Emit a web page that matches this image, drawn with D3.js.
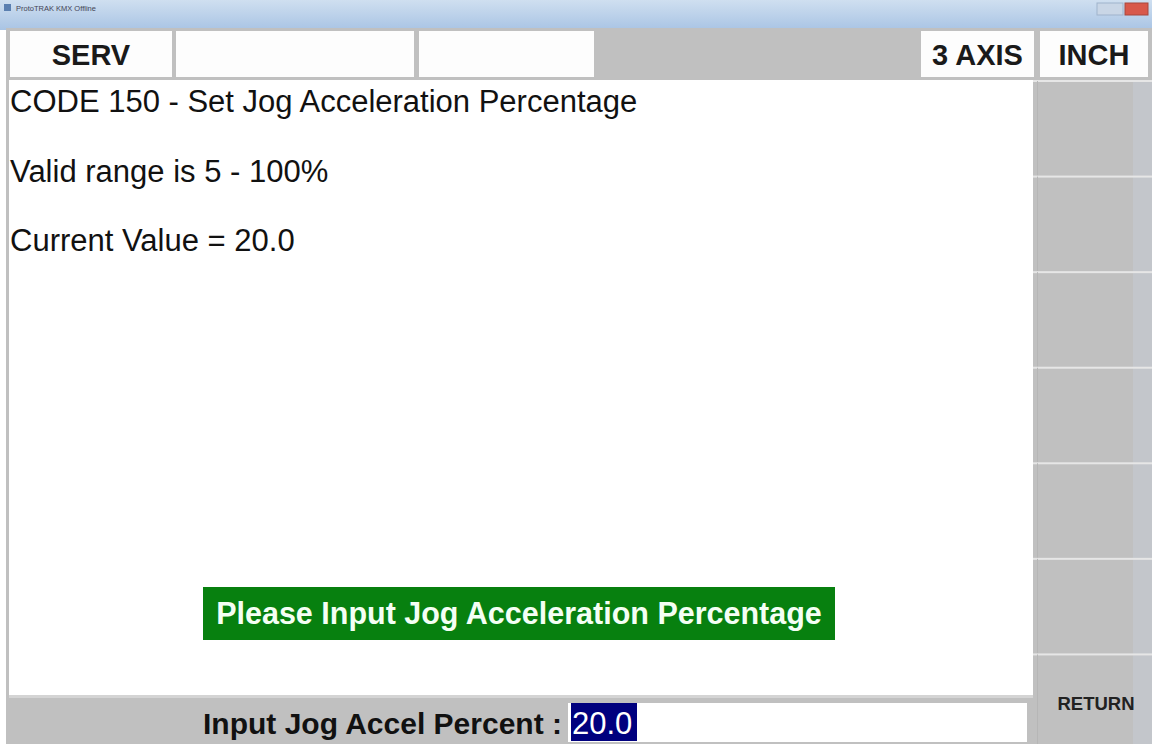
<html>
<head>
<meta charset="utf-8">
<title>ProtoTRAK KMX Offline</title>
<style>
  body { margin: 0; background: #fff; }
  svg { display: block; font-family: "Liberation Sans", Arial, sans-serif; }
</style>
<script src="https://cdnjs.cloudflare.com/ajax/libs/d3/7.8.5/d3.min.js"></script>
</head>
<body>
<svg></svg>
<script>
// screen content
const windowTitle = 'ProtoTRAK KMX Offline';
const topLabels = ['SERV', '', '', null, '3 AXIS', 'INCH'];   // null = empty grey slot
const messageLines = ['CODE 150 - Set Jog Acceleration Percentage', 'Valid range is 5 - 100%', 'Current Value = 20.0'];
const promptText = 'Please Input Jog Acceleration Percentage';
const inputLabel = 'Input Jog Accel Percent :';
const inputValue = '20.0';
const softKeys = ['', '', '', '', '', '', 'RETURN'];

const width = 1152, height = 744;
const grey = '#c0c0c0';

const svg = d3.select('svg').attr('width', width).attr('height', height);

// window title bar
const grad = svg.append('defs').append('linearGradient')
  .attr('id', 'tb').attr('x1', 0).attr('y1', 0).attr('x2', 0).attr('y2', 1);
grad.append('stop').attr('offset', 0).attr('stop-color', '#cfdff0');
grad.append('stop').attr('offset', 1).attr('stop-color', '#a9c4e4');
svg.append('rect').attr('width', width).attr('height', 30).attr('fill', 'url(#tb)');
svg.append('rect').attr('x', 4).attr('y', 4).attr('width', 7).attr('height', 7).attr('fill', '#5a7fb0');
svg.append('text').attr('x', 16).attr('y', 11).attr('font-size', 7.5).attr('fill', '#445').text(windowTitle);
// window buttons
svg.append('rect').attr('x', 1097).attr('y', 3).attr('width', 26).attr('height', 12).attr('fill', '#c9d6e6').attr('stroke', '#9fb3cc');
svg.append('rect').attr('x', 1125).attr('y', 3).attr('width', 23).attr('height', 12).attr('fill', '#d8584a').attr('stroke', '#a8473c');

// frame
svg.append('rect').attr('x', 6).attr('y', 28).attr('width', width - 6).attr('height', height - 28).attr('fill', grey);

// top status row
const topEdges = [[10, 172], [176, 414], [419, 594], [594, 920], [921, 1034], [1040, 1148]];
const topRow = svg.append('g');
topRow.selectAll('rect')
  .data(topLabels)
  .join('rect')
  .attr('x', (d, i) => topEdges[i][0])
  .attr('y', 31)
  .attr('width', (d, i) => topEdges[i][1] - topEdges[i][0])
  .attr('height', 46)
  .attr('fill', d => d === null ? grey : '#fdfdfd');
topRow.selectAll('text')
  .data(topLabels)
  .join('text')
  .attr('x', (d, i) => (topEdges[i][0] + topEdges[i][1]) / 2)
  .attr('y', 65)
  .attr('text-anchor', 'middle')
  .attr('font-size', 29)
  .attr('font-weight', 'bold')
  .attr('fill', '#1a1a1a')
  .text(d => d || '');

// main white panel
svg.append('rect').attr('x', 9).attr('y', 80).attr('width', 1024).attr('height', 615).attr('fill', '#fff');

const lineY = d3.scalePoint().domain(d3.range(messageLines.length)).range([112, 251]);
svg.append('g').selectAll('text')
  .data(messageLines)
  .join('text')
  .attr('x', 10)
  .attr('y', (d, i) => lineY(i))
  .attr('font-size', 31)
  .attr('fill', '#111')
  .text(d => d);

// green prompt
svg.append('rect').attr('x', 203).attr('y', 587).attr('width', 632).attr('height', 53).attr('fill', '#07800f');
svg.append('text').attr('x', 519).attr('y', 624).attr('text-anchor', 'middle')
  .attr('font-size', 30.5).attr('font-weight', 'bold').attr('fill', '#f4fff4').text(promptText);

// bottom input bar
svg.append('rect').attr('x', 9).attr('y', 695).attr('width', 1024).attr('height', 3).attr('fill', '#d4d4d4');
svg.append('text').attr('x', 203).attr('y', 734).attr('font-size', 30).attr('font-weight', 'bold')
  .attr('fill', '#111').text(inputLabel);
svg.append('rect').attr('x', 568).attr('y', 703).attr('width', 459).attr('height', 39).attr('fill', '#fff');
svg.append('rect').attr('x', 571).attr('y', 703).attr('width', 66).attr('height', 38).attr('fill', '#00007e');
svg.append('text').attr('x', 572).attr('y', 734).attr('font-size', 31).attr('fill', '#fff').text(inputValue);

// soft keys on right
const keyY = d3.scaleBand().domain(d3.range(softKeys.length)).range([81, 750]);
const keys = svg.append('g').selectAll('g')
  .data(softKeys)
  .join('g')
  .attr('transform', (d, i) => `translate(1033,${keyY(i)})`);
keys.append('rect')
  .attr('width', 119)
  .attr('height', keyY.bandwidth())
  .attr('fill', grey);
keys.append('rect')
  .attr('x', 100).attr('width', 19).attr('height', keyY.bandwidth()).attr('fill', '#c3c6cb');
keys.append('rect')
  .attr('y', -1)
  .attr('width', 119)
  .attr('height', 2)
  .attr('fill', '#e6e6e6');
keys.append('rect')
  .attr('x', 4).attr('width', 1).attr('height', keyY.bandwidth()).attr('fill', '#b6b6b6');
keys.append('text')
  .attr('x', 63)
  .attr('y', 56)
  .attr('text-anchor', 'middle')
  .attr('font-size', 18.5)
  .attr('font-weight', 'bold')
  .attr('fill', '#222')
  .text(d => d);
</script>
</body>
</html>
